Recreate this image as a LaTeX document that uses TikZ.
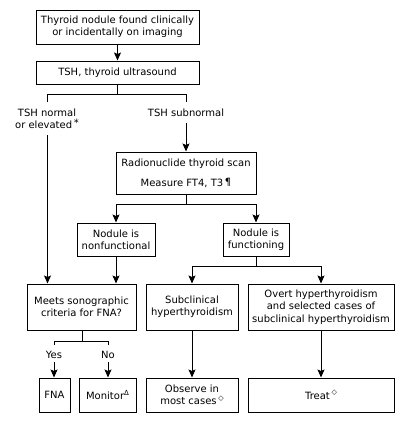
\documentclass[tikz,border=0pt]{standalone}
\usepackage{fontspec}
\setmainfont{DejaVu Sans}
\usetikzlibrary{arrows.meta}
\newcommand{\sy}[1]{\raisebox{0.45em}{\fontsize{7}{7}\selectfont #1}}
\begin{document}
\begin{tikzpicture}[x=1pt,y=-1pt,
  font=\fontsize{10}{12.3}\selectfont,
  box/.style={draw,line width=1pt,rectangle,align=center,inner sep=0pt},
  lbl/.style={align=center,inner sep=1pt},
  conn/.style={line width=1pt},
  arr/.style={line width=1pt,-{Stealth[length=8pt,width=7pt,inset=1.5pt]}}]
\useasboundingbox (0,0) rectangle (405,423);
\node[box,minimum width=163pt,minimum height=34pt] (b1) at (117.5,27) {Thyroid nodule found clinically\\or incidentally on imaging};
\node[box,minimum width=163pt,minimum height=23pt] (b2) at (117.5,72.5) {TSH, thyroid ultrasound};
\node[lbl] (norm) at (47,119) {TSH normal\\or elevated\,\raisebox{0.2em}{*}};
\node[lbl] (sub) at (186,113) {TSH subnormal};
\node[box,minimum width=140pt,minimum height=42pt] (b3) at (186,173) {Radionuclide thyroid scan\\[7.5pt]Measure FT4, T3\,\raisebox{0.1em}{¶}};
\node[box,minimum width=78pt,minimum height=33pt] (b4) at (116,239.5) {Nodule is\\nonfunctional};
\node[box,minimum width=66pt,minimum height=33pt] (b5) at (256,239.5) {Nodule is\\functioning};
\node[box,minimum width=109pt,minimum height=46pt] (b6) at (81.5,307) {Meets sonographic\\criteria for FNA?};
\node[box,minimum width=92pt,minimum height=46pt] (b7) at (192,307) {Subclinical\\hyperthyroidism};
\node[box,minimum width=146pt,minimum height=46pt] (b8) at (321,307) {Overt hyperthyroidism\\and selected cases of\\subclinical hyperthyroidism};
\node[lbl] (yes) at (54,355) {Yes};
\node[lbl] (no) at (108,355) {No};
\node[box,minimum width=31pt,minimum height=34pt] (b9) at (54.5,395) {FNA};
\node[box,minimum width=57pt,minimum height=34pt] (b10) at (107.5,395) {Monitor\sy{Δ}};
\node[box,minimum width=92pt,minimum height=34pt] (b11) at (192,395) {Observe in\\most cases\,\sy{◇}};
\node[box,minimum width=146pt,minimum height=34pt] (b12) at (321,395) {Treat\,\sy{◇}};
% connectors
\coordinate (s1) at (117.5,94);
\coordinate (s1l) at (47.5,94);
\coordinate (s1r) at (186,94);
\coordinate (s2) at (186,204);
\coordinate (s2l) at (116,204);
\coordinate (s2r) at (256,204);
\coordinate (s3) at (256,266);
\coordinate (s3l) at (192,266);
\coordinate (s3r) at (321,266);
\coordinate (s4) at (82,341);
\coordinate (s4l) at (54,341);
\coordinate (s4r) at (108,341);
\draw[arr] (b1) -- (b2);
\draw[conn] (b2.south) -- (s1);
\draw[conn] (s1l |- 0,102) -- (s1l) -- (s1r) -- (s1r |- 0,102);
\draw[arr,shorten <=5pt] (norm.south -| s1l) -- (s1l |- b6.north);
\draw[arr,shorten <=5pt] (sub.south) -- (b3.north);
\draw[conn] (b3.south) -- (s2);
\draw[conn] (s2l) -- (s2r);
\draw[arr] (s2l) -- (b4.north);
\draw[arr] (s2r) -- (b5.north);
\draw[arr] (b4.south) -- (b4.south |- b6.north);
\draw[conn] (b5.south) -- (s3);
\draw[conn] (s3l) -- (s3r);
\draw[arr] (s3l) -- (b7.north);
\draw[arr] (s3r) -- (b8.north);
\draw[conn] (b6.south -| s4) -- (s4);
\draw[conn] (s4l |- 0,345) -- (s4l) -- (s4r) -- (s4r |- 0,345);
\draw[arr,shorten <=2pt] (yes.south) -- (yes.south |- b9.north);
\draw[arr,shorten <=2pt] (no.south) -- (no.south |- b10.north);
\draw[arr] (b7) -- (b11);
\draw[arr] (b8) -- (b12);
\end{tikzpicture}
\end{document}
